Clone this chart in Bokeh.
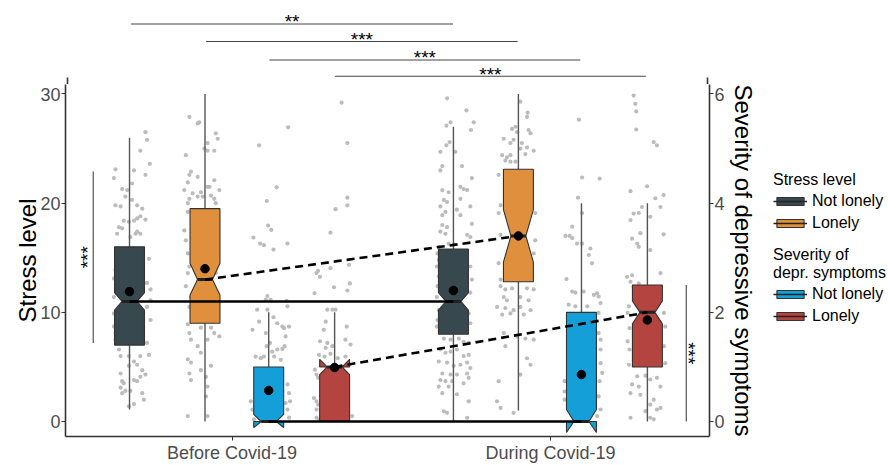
from bokeh.plotting import figure
from bokeh.layouts import row, column
from bokeh.models import Range1d, LinearAxis, FixedTicker, Legend, LegendItem
from bokeh.core.properties import value
from bokeh.embed import file_html
from bokeh.resources import INLINE

FONT = "Liberation Sans"

# ---------------- data ----------------
periods = ["Before Covid-19", "During Covid-19"]
period_ticks = [1, 2]
groups = ["Not lonely", "Lonely"]

# stress-level boxes: Before/Not lonely, Before/Lonely, During/Not lonely, During/Lonely
stress_whisk_lo = [1.1, 0.0, 0.0, 1.0]
stress_q1 = [7.0, 9.0, 8.0, 12.8]
stress_notch_lo = [10.2, 11.6, 10.2, 14.6]
stress_median = [11.0, 13.0, 11.0, 17.0]
stress_notch_hi = [11.8, 14.5, 11.8, 19.4]
stress_q3 = [16.0, 19.5, 15.8, 23.1]
stress_whisk_hi = [26.0, 30.0, 27.0, 30.0]
stress_mean = [11.9, 14.0, 12.0, 17.0]

# depressive-symptom boxes (right axis): same order
dep_whisk_lo = [0.0, 0.0, 0.0, 0.0]
dep_q1 = [0.0, 0.0, 0.0, 1.0]
dep_notch_lo = [-0.11, 0.86, -0.2, 1.79]
dep_median = [0.0, 1.0, 0.0, 2.0]
dep_notch_hi = [0.13, 1.14, 0.22, 2.21]
dep_q3 = [1.0, 1.0, 2.0, 2.5]
dep_whisk_hi = [2.0, 2.0, 4.0, 4.0]
dep_mean = [0.57, 0.99, 0.86, 1.86]

# raw observations (jitter offset, value)
pts_stress_before_not_lonely = [(0.050,26.5),(0.055,25.8),(0.034,24.8),(0.064,23.6),(-0.044,23.1),(0.014,23.0),(0.050,22.6),(-0.049,22.3),(0.008,21.8),(-0.023,21.3),(-0.007,21.2),(-0.013,20.6),(-0.044,19.8),(-0.028,19.7),(0.008,20.3),(0.024,19.8),(0.040,19.5),(0.034,18.8),(0.014,18.4),(-0.018,18.4),(-0.002,18.3),(0.024,18.6),(0.050,18.5),(-0.033,17.8),(-0.023,17.7),(0.024,17.4),(0.034,17.2),(0.019,17.2),(0.003,16.9),(-0.039,17.2),(0.061,14.9),(-0.044,13.9),(-0.049,13.1),(0.055,12.7),(0.066,12.1),(-0.049,11.4),(0.066,11.1),(0.055,10.5),(-0.049,9.9),(0.066,9.3),(-0.049,8.7),(-0.044,8.1),(-0.044,7.5),(0.055,7.2),(-0.033,6.6),(-0.028,6.0),(-0.002,6.0),(0.034,6.0),(0.061,6.1),(0.014,5.5),(-0.002,5.1),(0.024,5.2),(0.040,4.7),(-0.028,4.4),(0.034,4.1),(0.050,4.3),(0.014,3.8),(-0.023,3.7),(0.024,3.7),(-0.013,2.8),(-0.028,3.1),(0.003,2.8),(0.040,2.6),(0.045,2.0),(0.014,1.6),(-0.002,1.4),(-0.023,2.6),(-0.018,3.5)]
pts_stress_before_lonely = [(-0.049,27.9),(-0.018,27.4),(-0.023,27.3),(0.034,26.4),(0.040,25.9),(0.008,25.5),(-0.002,25.0),(0.008,24.8),(0.029,24.8),(-0.060,24.4),(-0.044,22.9),(-0.049,22.6),(-0.023,22.4),(-0.054,21.9),(0.029,22.1),(0.008,21.5),(-0.013,21.0),(0.014,21.5),(-0.065,21.2),(0.045,21.2),(-0.039,20.9),(-0.023,20.6),(-0.049,20.4),(-0.007,20.6),(0.019,20.7),(0.029,20.4),(-0.054,20.0),(0.034,20.0),(-0.054,19.2),(-0.065,17.5),(-0.060,16.6),(-0.054,15.4),(-0.049,14.2),(-0.054,13.6),(0.034,13.6),(-0.060,12.4),(-0.044,11.4),(-0.049,10.5),(0.014,9.5),(-0.054,8.9),(-0.013,8.6),(0.019,8.6),(-0.049,8.1),(0.029,8.1),(-0.044,7.5),(0.008,7.5),(0.045,7.8),(-0.023,6.9),(-0.013,6.3),(-0.054,5.7),(-0.044,5.4),(0.019,5.1),(-0.013,4.7),(-0.049,4.4),(0.003,4.1),(-0.044,3.8),(0.008,3.2),(0.003,2.3),(-0.054,0.5),(0.008,0.5)]
pts_stress_during_not_lonely = [(-0.020,29.6),(0.041,28.5),(-0.022,27.1),(-0.009,27.4),(0.064,27.4),(0.055,26.7),(-0.012,25.6),(-0.022,25.3),(-0.041,24.7),(0.006,24.7),(0.027,23.4),(-0.035,23.4),(-0.041,23.0),(0.058,22.3),(0.022,21.5),(0.032,21.3),(0.043,21.2),(-0.035,21.2),(-0.015,21.0),(-0.030,20.3),(-0.020,20.1),(-0.041,19.7),(0.022,20.4),(0.053,19.7),(-0.025,19.2),(-0.035,18.9),(0.011,19.4),(0.022,18.9),(0.058,18.1),(-0.035,18.0),(-0.020,17.8),(-0.041,17.4),(-0.025,17.2),(0.043,17.1),(0.053,16.9),(-0.015,16.3),(0.001,16.2),(-0.046,16.0),(-0.050,15.4),(-0.046,14.8),(-0.052,14.2),(-0.046,13.3),(-0.050,12.4),(-0.052,11.4),(-0.046,10.2),(-0.050,9.3),(-0.052,8.7),(0.053,14.2),(0.058,13.0),(0.053,11.8),(0.048,9.9),(0.053,9.0),(-0.030,7.6),(-0.009,7.5),(0.017,7.6),(0.032,7.3),(0.048,7.2),(-0.041,6.6),(-0.025,6.3),(-0.009,6.4),(0.011,6.6),(0.032,6.0),(0.048,6.1),(-0.046,5.5),(-0.020,5.4),(0.001,5.1),(0.022,5.2),(0.043,5.4),(0.053,4.9),(-0.035,4.4),(-0.009,4.3),(0.011,4.3),(0.043,4.4),(0.048,4.0),(-0.041,3.8),(-0.025,3.7),(-0.004,3.7),(0.032,3.5),(-0.046,3.2),(-0.015,3.2),(-0.035,2.6),(0.011,2.5),(0.048,1.85),(-0.030,0.94),(-0.020,0.8),(0.043,0.34)]
pts_stress_during_lonely = [(0.006,29.3),(0.029,28.3),(0.027,27.9),(-0.020,26.8),(-0.009,27.0),(-0.004,26.5),(0.032,26.7),(0.038,26.4),(-0.046,25.9),(-0.015,25.8),(-0.025,25.5),(0.011,25.5),(0.027,25.1),(0.048,24.8),(0.006,25.0),(-0.051,24.4),(-0.036,24.2),(-0.025,24.4),(0.022,24.5),(-0.009,23.8),(-0.025,23.8),(-0.041,23.9),(-0.062,22.6),(-0.056,19.8),(-0.062,19.1),(-0.056,17.1),(-0.062,14.5),(-0.056,13.0),(0.053,19.1),(0.053,16.6),(0.048,15.4),(-0.056,12.4),(-0.041,12.1),(-0.020,12.2),(0.027,12.2),(0.048,12.1),(-0.046,11.4),(-0.036,11.1),(0.006,11.4),(0.032,11.1),(-0.067,10.5),(-0.041,10.4),(-0.015,10.2),(0.006,10.5),(0.038,10.2),(-0.051,9.8),(-0.025,9.9),(0.017,9.8),(-0.046,8.1),(-0.004,7.8),(0.022,7.6),(0.048,7.5),(-0.041,6.9),(0.027,5.8),(0.038,5.2),(0.006,4.3),(-0.062,3.7),(-0.067,1.85),(-0.056,1.25),(-0.015,0.8)]
pts_dep_before_not_lonely = [(-0.030,5.06),(0.061,5.39),(0.025,4.29),(-0.006,4.04),(-0.002,3.59),(0.008,3.51),(-0.048,3.37),(-0.027,3.26),(-0.015,3.23),(0.015,3.15),(0.059,3.26),(-0.009,2.23),(0.006,2.23),(0.056,2.21),(-0.004,2.30),(0.059,2.11),(-0.036,2.05),(-0.004,2.05),(-0.051,1.68),(-0.030,1.83),(0.015,1.91),(0.027,1.80),(0.043,1.74),(0.064,1.74),(0.048,1.71),(-0.009,1.62),(0.053,1.56),(0.004,1.44),(-0.006,1.38),(-0.041,1.19),(-0.025,1.16),(-0.015,1.19),(0.011,1.28),(0.027,1.32),(0.043,1.33),(0.050,1.38),(0.017,1.19),(0.038,1.13),(0.059,0.68),(0.064,0.52),(0.067,0.37),(0.053,0.34),(0.059,0.22),(-0.056,0.37),(-0.051,0.22),(-0.046,0.04),(0.064,0.07),(-0.036,0.16)]
pts_dep_before_lonely = [(0.022,5.84),(0.040,5.10),(0.040,4.10),(0.040,3.96),(0.003,3.89),(-0.013,3.46),(-0.052,2.76),(-0.046,2.65),(-0.057,2.72),(-0.013,2.81),(0.045,2.87),(0.048,2.53),(-0.002,2.46),(0.040,2.40),(-0.063,2.35),(-0.023,2.05),(-0.007,2.05),(0.003,2.05),(-0.028,1.83),(-0.034,1.68),(0.038,1.74),(-0.046,1.47),(-0.023,1.44),(-0.007,1.38),(-0.028,1.35),(0.034,1.50),(0.050,1.41),(-0.049,1.22),(-0.032,1.19),(-0.013,1.24),(0.010,1.16),(0.034,1.19),(-0.062,0.95),(-0.057,0.86),(-0.052,0.80),(-0.065,0.43),(-0.057,0.37),(-0.052,0.31),(-0.057,0.22),(-0.057,0.07),(-0.049,0.04),(0.055,0.10)]
pts_dep_during_not_lonely = [(-0.008,5.53),(0.002,4.47),(0.057,4.45),(-0.011,4.10),(0.002,3.82),(-0.029,3.57),(-0.050,3.40),(-0.037,3.40),(-0.029,3.36),(-0.014,3.26),(0.002,3.26),(0.028,3.17),(0.023,3.05),(0.033,2.90),(-0.047,2.61),(-0.029,2.38),(-0.019,2.36),(0.007,2.38),(0.039,2.32),(0.049,2.35),(0.054,2.29),(-0.040,2.14),(-0.019,2.11),(0.018,2.11),(0.060,2.17),(0.054,1.99),(0.054,1.62),(0.060,1.50),(0.060,1.32),(0.060,1.07),(0.065,0.89),(0.057,0.74),(0.054,0.46),(0.060,0.22),(0.049,0.10),(-0.053,0.74),(-0.053,0.55),(-0.053,0.40)]
pts_dep_during_lonely = [(-0.043,5.97),(-0.038,5.82),(-0.035,5.68),(-0.035,5.35),(0.020,5.12),(0.030,5.06),(-0.001,4.31),(-0.053,4.22),(0.051,4.15),(0.025,4.09),(0.041,3.93),(-0.043,3.81),(-0.027,3.82),(-0.017,3.93),(0.009,3.75),(-0.053,3.69),(-0.022,3.45),(0.051,3.43),(-0.048,3.35),(-0.032,3.26),(-0.027,3.20),(0.009,3.14),(0.041,2.72),(-0.064,2.65),(-0.048,2.68),(-0.053,2.56),(-0.043,2.47),(-0.027,2.53),(-0.058,2.11),(-0.062,1.99),(-0.056,1.71),(-0.062,1.47),(-0.056,1.32),(-0.058,1.04),(0.052,1.99),(0.056,1.74),(0.052,1.38),(0.056,1.07),(-0.032,0.83),(-0.006,0.84),(0.009,0.77),(0.030,0.80),(-0.048,0.68),(-0.027,0.64),(0.041,0.64),(-0.053,0.52),(-0.022,0.49),(0.020,0.40),(0.009,0.31),(0.030,0.22),(0.041,0.25),(-0.006,0.19),(-0.053,0.07),(0.009,0.07),(0.020,0.04)]

# significance annotations
hbracket_labels = ["**", "***", "***", "***"]
hbracket_y = [36.4, 34.8, 33.1, 31.62]         # stress units
vbracket_labels = ["***", "***"]
vbracket_left_span = (7.2, 22.9)              # stress units
vbracket_right_span = (0.0, 2.5)              # severity units

# ---------------- layout / style ----------------
stress_x = [0.678, 0.915, 1.695, 1.899]
dep_x = [1.115, 1.322, 2.097, 2.304]
BOX_W = 0.094
C_DARK, C_ORANGE, C_BLUE, C_RED = "#37484f", "#e0903d", "#159fd9", "#b3443f"
stress_colors = [C_DARK, C_ORANGE, C_DARK, C_ORANGE]
dep_colors = [C_BLUE, C_RED, C_BLUE, C_RED]
EDGE = "#333333"
WHISK = "#555555"
PT = "#b8b8b8"

PX_Y = 10.95          # pixels per stress unit
PX_X = 318.5          # pixels per x unit
Y0, Y1 = -1.37, 38.54
AXIS_TOP = 31.5
SEV = 5.0
H = 465
H_TOP = 84
W_MAIN = 763
X0, X1 = 0.477, 2.499
YTOP = Y1 - H_TOP / PX_Y

xr = Range1d(X0, X1)

# ---------------- main panel ----------------
p = figure(width=W_MAIN, height=H - H_TOP, output_backend="svg", toolbar_location=None,
           x_range=xr, y_range=Range1d(Y0, YTOP),
           min_border_left=65, min_border_right=54, min_border_top=0,
           min_border_bottom=28)
p.extra_y_ranges = {"sev": Range1d(Y0 / SEV, YTOP / SEV)}
p.xgrid.visible = False
p.ygrid.visible = False
p.outline_line_color = None
p.background_fill_color = "white"

def draw_pts(pts, xc, rng=None):
    kw = {} if rng is None else {"y_range_name": rng}
    p.scatter(x=[xc + d for d, _ in pts], y=[v for _, v in pts], size=4.2,
              fill_color=PT, line_color=None, alpha=0.95, **kw)

draw_pts(pts_stress_before_not_lonely, stress_x[0])
draw_pts(pts_stress_before_lonely, stress_x[1])
draw_pts(pts_stress_during_not_lonely, stress_x[2])
draw_pts(pts_stress_during_lonely, stress_x[3])
draw_pts(pts_dep_before_not_lonely, dep_x[0], "sev")
draw_pts(pts_dep_before_lonely, dep_x[1], "sev")
draw_pts(pts_dep_during_not_lonely, dep_x[2], "sev")
draw_pts(pts_dep_during_lonely, dep_x[3], "sev")

def draw_box(xc, wlo, q1, nlo, med, nhi, q3, whi, color, rng=None):
    kw = {} if rng is None else {"y_range_name": rng}
    p.segment(x0=[xc, xc], y0=[q3, q1], x1=[xc, xc], y1=[whi, wlo],
              line_color=WHISK, line_width=1.4, **kw)
    xl, xrr = xc - BOX_W / 2, xc + BOX_W / 2
    xil, xir = xc - BOX_W / 4, xc + BOX_W / 4
    p.patch(x=[xl, xl, xil, xl, xl, xrr, xrr, xir, xrr, xrr],
            y=[q1, nlo, med, nhi, q3, q3, nhi, med, nlo, q1],
            fill_color=color, line_color=EDGE, line_width=1.1, **kw)
    p.segment(x0=[xil], y0=[med], x1=[xir], y1=[med],
              line_color="#222222", line_width=3, **kw)

for i in range(4):
    draw_box(stress_x[i], stress_whisk_lo[i], stress_q1[i], stress_notch_lo[i],
             stress_median[i], stress_notch_hi[i], stress_q3[i],
             stress_whisk_hi[i], stress_colors[i])
for i in range(4):
    draw_box(dep_x[i], dep_whisk_lo[i], dep_q1[i], dep_notch_lo[i],
             dep_median[i], dep_notch_hi[i], dep_q3[i],
             dep_whisk_hi[i], dep_colors[i], "sev")

# connecting lines between medians
p.line([stress_x[0], stress_x[2]], [stress_median[0], stress_median[2]], line_color="black", line_width=2.6)
p.line([stress_x[1], stress_x[3]], [stress_median[1], stress_median[3]], line_color="black", line_width=2.6, line_dash="8 5")
p.line([dep_x[0], dep_x[2]], [dep_median[0], dep_median[2]], line_color="black", line_width=2.6, y_range_name="sev")
p.line([dep_x[1], dep_x[3]], [dep_median[1], dep_median[3]], line_color="black", line_width=2.6, line_dash="8 5", y_range_name="sev")

# means
p.scatter(x=stress_x, y=stress_mean, size=8.5, color="black")
p.scatter(x=dep_x, y=dep_mean, size=8.5, color="black", y_range_name="sev")

# vertical significance brackets
vx_left = 0.564
p.segment(x0=[vx_left], x1=[vx_left], y0=[vbracket_left_span[0]], y1=[vbracket_left_span[1]],
          line_color="#444444", line_width=1.1)
p.text(x=[vx_left - 0.017], y=[sum(vbracket_left_span) / 2], text=[vbracket_labels[0]],
       angle=1.5708, text_font=value(FONT), text_font_size="19px",
       text_align="center", text_baseline="alphabetic", text_color="black")
vx_right = 2.426
p.segment(x0=[vx_right], x1=[vx_right], y0=[vbracket_right_span[0]], y1=[vbracket_right_span[1]],
          line_color="#444444", line_width=1.1, y_range_name="sev")
p.text(x=[vx_right + 0.008], y=[sum(vbracket_right_span) / 2], text=[vbracket_labels[1]],
       angle=-1.5708, text_font=value(FONT), text_font_size="19px",
       text_align="center", text_baseline="alphabetic", text_color="black", y_range_name="sev")

# axes
def style_axis(ax):
    ax.axis_line_color = "#333333"
    ax.axis_line_width = 1.6
    ax.major_tick_line_color = "#333333"
    ax.major_tick_out = 4
    ax.major_tick_in = 0
    ax.minor_tick_line_color = None
    ax.major_label_text_font = FONT
    ax.major_label_text_font_size = "18px"
    ax.major_label_text_color = "#4d4d4d"
    ax.axis_label_text_font = FONT
    ax.axis_label_text_font_size = "24px"
    ax.axis_label_text_font_style = "normal"
    ax.axis_label_text_color = "black"

xa = p.xaxis[0]
style_axis(xa)
xa.ticker = FixedTicker(ticks=period_ticks)
xa.major_label_overrides = {t: lab for t, lab in zip(period_ticks, periods)}
xa.major_label_standoff = 2

ya = p.yaxis[0]
style_axis(ya)
ya.ticker = FixedTicker(ticks=[0, 10, 20, 30])
ya.axis_label = "Stress level"
ya.major_label_standoff = 1
ya.axis_label_standoff = -4

ra = LinearAxis(y_range_name="sev", axis_label="Severity of depressive symptoms")
style_axis(ra)
ra.ticker = FixedTicker(ticks=[0, 2, 4, 6])
ra.major_label_standoff = 1
ra.axis_label_standoff = 2
p.add_layout(ra, "right")

# ---------------- bracket strip above the panel ----------------
PAD = 2  # px of extra room so the axis-line continuation is not clipped
pt = figure(width=W_MAIN, height=H_TOP, output_backend="svg", toolbar_location=None,
            x_range=Range1d(X0 - PAD / PX_X, X1 + PAD / PX_X), y_range=Range1d(YTOP, Y1),
            min_border_left=65 - PAD, min_border_right=54 - PAD, min_border_top=0,
            min_border_bottom=0, x_axis_location=None, y_axis_location=None)
pt.xgrid.visible = False
pt.ygrid.visible = False
pt.outline_line_color = None
# continuation of the two y-axis lines up to the top of the panel
pt.segment(x0=[X0, X1], x1=[X0, X1], y0=[YTOP, YTOP], y1=[AXIS_TOP, AXIS_TOP],
           line_color="#333333", line_width=1.6)
bx0 = [stress_x[0], stress_x[1], dep_x[0], dep_x[1]]
bx1 = [stress_x[2], stress_x[3], dep_x[2], dep_x[3]]
pt.segment(x0=bx0, x1=bx1, y0=hbracket_y, y1=hbracket_y, line_color="#444444", line_width=1.1)
pt.text(x=[(a + b) / 2 for a, b in zip(bx0, bx1)], y=[y + 0.2 for y in hbracket_y],
        text=hbracket_labels, text_font=value(FONT), text_font_size="19px",
        text_align="center", text_baseline="alphabetic", text_color="black")

# ---------------- legend panel ----------------
pl = figure(width=125, height=H, output_backend="svg", toolbar_location=None,
            x_range=Range1d(0, 1), y_range=Range1d(0, 1), min_border=0,
            x_axis_location=None, y_axis_location=None)
pl.xgrid.visible = False
pl.ygrid.visible = False
pl.outline_line_color = None

def key(color):
    # one off-screen sample so the legend key has its style
    r1 = pl.patch(x=[-5, -4, -4], y=[-5, -5, -4], fill_color=color, line_color=EDGE, line_width=1.1)
    r2 = pl.segment(x0=[-5], y0=[-5], x1=[-4], y1=[-5], line_color="#222222", line_width=1.5)
    return [r1, r2]

def make_legend(title, items, loc):
    lg = Legend(items=items, title=title, location=loc)
    lg.title_text_font = FONT
    lg.title_text_font_size = "16px"
    lg.title_text_font_style = "normal"
    lg.title_text_color = "black"
    lg.title_text_line_height = 1.3
    lg.title_standoff = 2
    lg.label_text_font = FONT
    lg.label_text_font_size = "16px"
    lg.label_text_color = "black"
    lg.glyph_width = 34
    lg.glyph_height = 10
    lg.label_height = 20
    lg.label_standoff = 5
    lg.spacing = 2
    lg.padding = 0
    lg.margin = 0
    lg.border_line_color = None
    lg.background_fill_alpha = 0
    return lg

leg1 = make_legend("Stress level",
                   [LegendItem(label=groups[0], renderers=key(C_DARK)),
                    LegendItem(label=groups[1], renderers=key(C_ORANGE))],
                   (10, 232))
leg2 = make_legend("Severity of\ndepr. symptoms",
                   [LegendItem(label=groups[0], renderers=key(C_BLUE)),
                    LegendItem(label=groups[1], renderers=key(C_RED))],
                   (10, 139))
pl.add_layout(leg1)
pl.add_layout(leg2)

layout = row(column(pt, p, spacing=0), pl, spacing=0)
open("out.html", "w").write(file_html(layout, INLINE))
